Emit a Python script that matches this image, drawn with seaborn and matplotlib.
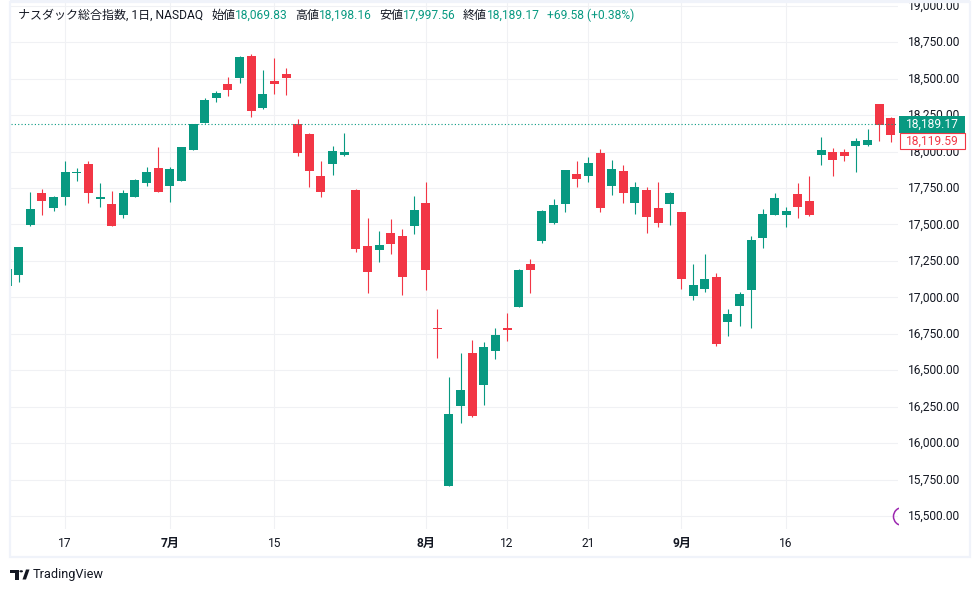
import pandas as pd
import matplotlib.pyplot as plt
import seaborn as sns
from matplotlib.patches import Circle, Polygon, Rectangle
from matplotlib.transforms import Affine2D

# Daily candles (first one is cut by the left edge)
days = list(range(-1, 76))
opens = [17078, 17154, 17496, 17716, 17613, 17689, 17855, 17915, 17675, 17641, 17565, 17689,
         17785, 17888, 17764, 17798, 18011, 18196, 18368, 18464, 18505, 18656, 18299, 18484,
         18532, 18189, 18121, 17833, 17915, 17977, 17737, 17352, 17325, 17442, 17421, 17490,
         17647, 16790, 15706, 16255, 16618, 16399, 16632, 16790, 16934, 17229, 17387, 17510,
         17641, 17846, 17833, 17990, 17764, 17867, 17647, 17737, 17613, 17641, 17586, 17009,
         17057, 17140, 16831, 16941, 17051, 17407, 17565, 17565, 17709, 17661, 17977, 17997,
         17997, 18038, 18045, 18327, 18231]
highs = [17195, 17346, 17723, 17743, 17695, 17936, 17888, 17936, 17785, 17730, 17737, 17812,
         17894, 18032, 17894, 18032, 18189, 18368, 18416, 18512, 18656, 18670, 18560, 18642,
         18574, 18224, 18128, 17936, 18038, 18128, 17743, 17545, 17455, 17538, 17469, 17695,
         17791, 16920, 16454, 16618, 16708, 16694, 16790, 16893, 17195, 17263, 17599, 17675,
         17874, 17936, 17963, 18018, 17942, 17908, 17791, 17757, 17791, 17723, 17586, 17229,
         17298, 17167, 16920, 17037, 17421, 17606, 17716, 17620, 17785, 17833, 18100, 18025,
         18018, 18093, 18155, 18327, 18237]
lows = [17078, 17105, 17490, 17565, 17593, 17634, 17798, 17647, 17620, 17488, 17545, 17689,
        17764, 17720, 17654, 17798, 18011, 18196, 18340, 18381, 18471, 18237, 18292, 18395,
        18388, 17970, 17757, 17689, 17840, 17970, 17311, 17030, 17243, 17298, 17016, 17435,
        17051, 16584, 15706, 16138, 16179, 16262, 16577, 16701, 16934, 17030, 17373, 17503,
        17586, 17757, 17791, 17586, 17702, 17647, 17572, 17442, 17483, 17496, 17057, 16982,
        17037, 16666, 16735, 16804, 16790, 17339, 17565, 17483, 17545, 17558, 17908, 17833,
        17936, 17860, 18038, 18073, 18066]
closes = [17195, 17346, 17606, 17661, 17689, 17860, 17862, 17716, 17689, 17490, 17716, 17805,
          17860, 17723, 17881, 18032, 18189, 18354, 18402, 18423, 18649, 18279, 18395, 18464,
          18505, 17990, 17867, 17723, 18004, 17997, 17332, 17174, 17359, 17366, 17140, 17599,
          17188, 16780, 16200, 16365, 16186, 16660, 16742, 16776, 17188, 17188, 17593, 17634,
          17874, 17812, 17922, 17613, 17881, 17716, 17757, 17551, 17510, 17716, 17126, 17085,
          17126, 16680, 16886, 17023, 17394, 17572, 17682, 17593, 17620, 17565, 18011, 17942,
          17970, 18073, 18080, 18183, 18114]

price_ticks = list(range(15500, 19001, 250))
date_ticks = [4, 13, 22, 35, 42, 49, 57, 66]
date_labels = ['17', '7月', '15', '8月', '12', '21', '9月', '16']
month_labels = ['7月', '8月', '9月']

last_price = 18189.17
pre_price = '18,119.59'
event_day = 76
event_price = 15497

UP = '#089981'
DOWN = '#f23645'
INK = '#131722'
GRID = '#f0f1f4'
FRAME = '#f0f3fa'
W, H = 980, 591


def px(x, y):
    # pixel position in the image -> figure fraction
    return x / W, 1 - y / H


sns.set_theme(style='white')
plt.rcParams['font.family'] = ['Roboto', 'Noto Sans CJK JP']

df = pd.DataFrame({'day': days, 'open': opens, 'high': highs, 'low': lows, 'close': closes})
df['height'] = (df['close'] - df['open']).abs()
df['bottom'] = df[['open', 'close']].min(axis=1)
df['up'] = df['close'] >= df['open']

fig = plt.figure(figsize=(W / 100, H / 100), dpi=100, facecolor='white')
ax = fig.add_axes([10.5 / W, 1 - 529 / H, 887.5 / W, 526 / H])

# Wicks
ax.vlines(df['day'], df['low'], df['high'], colors=df['up'].map({True: UP, False: DOWN}),
          linewidth=0.8, zorder=2)

# Bodies
for is_up, color in [(True, UP), (False, DOWN)]:
    part = df[df['up'] == is_up]
    sns.barplot(data=part, x='day', y='height', bottom=part['bottom'].values, native_scale=True,
                width=0.775, color=color, saturation=1, errorbar=None, linewidth=0, ax=ax, zorder=3)

ax.axhline(last_price, color=UP, linewidth=0.8, linestyle=(0, (1, 2)), zorder=4)

# Earnings marker cut by the price scale
ax.plot([event_day], [event_price], marker='o', markersize=13, markerfacecolor='none',
        markeredgecolor='#9c27b0', markeredgewidth=1.1, linestyle='none', zorder=4)

ax.set_xlim(-0.70, 75.62)
ax.set_ylim(15411, 19019)
ax.set_xlabel('')
ax.set_ylabel('')

ax.yaxis.tick_right()
ax.set_yticks(price_ticks)
ax.set_yticklabels([f'{v:,.2f}' for v in price_ticks])
ax.set_xticks(date_ticks)
ax.set_xticklabels(date_labels)
ax.tick_params(axis='y', length=0, pad=7.2, labelsize=8.64, labelcolor=INK)
ax.tick_params(axis='x', length=0, pad=6, labelsize=8.64, labelcolor=INK)
for lab in ax.get_xticklabels():
    if lab.get_text() in month_labels:
        lab.set_fontweight('bold')
for lab in ax.get_yticklabels():
    lab.set_transform(lab.get_transform() + Affine2D().translate(0, 1))

ax.grid(True, color=GRID, linewidth=0.8)
ax.set_axisbelow(True)
sns.despine(ax=ax, left=True, bottom=True, right=True, top=True)

# Price tags on the scale
fig.add_artist(Rectangle((899 / W, 1 - 133 / H), 66 / W, 17 / H, transform=fig.transFigure,
                         facecolor=UP, edgecolor='none', zorder=5))
fig.text(*px(932, 124.5), f'{last_price:,.2f}', color='white', fontsize=8.64, ha='center',
         va='center', zorder=6)
fig.add_artist(Rectangle((899.5 / W, 1 - 149 / H), 65 / W, 16 / H, transform=fig.transFigure,
                         facecolor='white', edgecolor=DOWN, linewidth=0.8, zorder=5))
fig.text(*px(932, 141), pre_price, color=DOWN, fontsize=8.64, ha='center', va='center', zorder=6)

# Header line
header = [
    (18, 'ナスダック総合指数, 1日, NASDAQ', INK),
    (211, '始値', INK), (235, '18,069.83', UP),
    (295, '高値', INK), (319, '18,198.16', UP),
    (379, '安値', INK), (403, '17,997.56', UP),
    (463, '終値', INK), (487, '18,189.17', UP),
    (547, '+69.58 (+0.38%)', UP),
]
for x, text, color in header:
    fig.text(*px(x, 15.5), text, color=color, fontsize=8.64, ha='left', va='center', zorder=6)

# Panel frame, the top band cuts the 19,000.00 label as in the reference
fig.add_artist(Rectangle((9.5 / W, 1 - 556.5 / H), 960 / W, 555 / H, transform=fig.transFigure,
                         fill=False, edgecolor=FRAME, linewidth=1.6, zorder=7))
fig.add_artist(Rectangle((9.5 / W, 1 - 2.5 / H), 960 / W, 2.5 / H, transform=fig.transFigure,
                         facecolor=FRAME, edgecolor='none', zorder=7))

# TradingView mark and name
logo = [
    [(10, 569.5), (18.5, 569.5), (18.5, 579.5), (14.5, 579.5), (14.5, 573), (10, 573)],
    [(22.5, 579.5), (26, 569.5), (29.5, 569.5), (26, 579.5)],
]
for shape in logo:
    fig.add_artist(Polygon([px(*p) for p in shape], closed=True, transform=fig.transFigure,
                           facecolor=INK, edgecolor='none'))
fig.add_artist(Circle(px(21.2, 571.3), 1.8 / W, transform=fig.transFigure, facecolor=INK,
                      edgecolor='none'))
fig.text(*px(33, 574.5), 'TradingView', color=INK, fontsize=9.2, ha='left', va='center')

fig.savefig('out.png', dpi=100, facecolor='white')
